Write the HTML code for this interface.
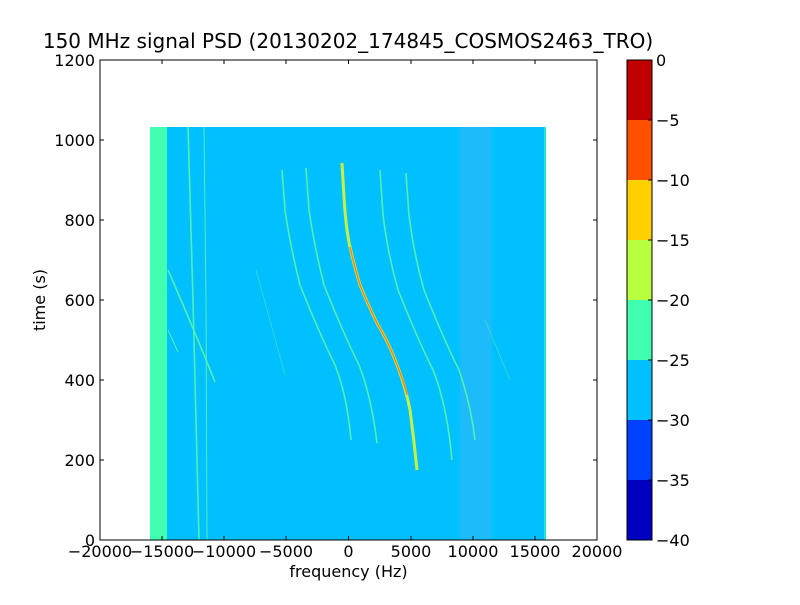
<!DOCTYPE html>
<html><head><meta charset="utf-8"><style>
body{margin:0;background:#fff;width:800px;height:600px;overflow:hidden}
text{font-family:"DejaVu Sans","Liberation Sans",sans-serif;fill:#000}
</style></head><body>
<svg width="800" height="600" viewBox="0 0 800 600" xmlns="http://www.w3.org/2000/svg" font-size="16">
<rect width="800" height="600" fill="#fff"/>
<rect x="150" y="127" width="396" height="413" fill="#00c0ff"/>
<rect x="150" y="127" width="17" height="413" fill="#40ffb0"/>
<rect x="460" y="127" width="32" height="413" fill="#60b0f0" opacity="0.3"/>
<rect x="544" y="127" width="2" height="413" fill="#40ffb0" opacity="0.6"/>
<g fill="none" stroke="#50f0b0" stroke-width="1.6">
<path d="M188,127 L193,300 L196,420 L199,540"/>
<path d="M204,127 L206,300 L207,540" stroke-width="1"/>
<path d="M168,270 Q190,320 215,382"/>
<path d="M168,330 L178,352" stroke-width="1"/>
<path d="M282,170 L285,210 Q290,245 300,285 Q320,335 335,365 Q347,395 351,440"/>
<path d="M306,168 L309,210 Q314,245 324,285 Q344,335 359,365 Q371,395 377,443"/>
<path d="M380,170 L383,215 Q388,255 398,290 Q418,340 433,370 Q447,405 452,460"/>
<path d="M406,173 L409,215 Q414,255 424,290 Q444,340 459,370 Q471,405 475,440"/>
<path d="M256,270 L285,375" stroke-width="1" opacity="0.5"/>
<path d="M485,320 L510,380" stroke-width="1" opacity="0.5"/>
</g>
<path d="M342,163 L344,197 Q346,230 350,247 Q354,265 360,285 Q368,305 378,325 Q390,345 397,365 Q405,385 410,410 Q414,440 417,470" fill="none" stroke="#c8f040" stroke-width="3"/>
<path d="M350,247 Q354,265 360,285 Q368,305 378,325 Q390,345 397,365 Q405,385 407,395" fill="none" stroke="#ff8020" stroke-width="1.5"/>
<rect x="100" y="60" width="497" height="480" fill="none" stroke="#000" stroke-width="1"/>
<g stroke="#000" stroke-width="1">
<path d="M100,540v-4M162,540v-4M224,540v-4M286,540v-4M348.5,540v-4M411,540v-4M473,540v-4M535,540v-4M597,540v-4"/>
<path d="M100,60v4M162,60v4M224,60v4M286,60v4M348.5,60v4M411,60v4M473,60v4M535,60v4M597,60v4"/>
<path d="M100,540h4M100,460h4M100,380h4M100,300h4M100,220h4M100,140h4M100,60h4"/>
<path d="M597,540h-4M597,460h-4M597,380h-4M597,300h-4M597,220h-4M597,140h-4M597,60h-4"/>
</g>
<g text-anchor="middle">
<text x="100" y="557">−20000</text><text x="162" y="557">−15000</text><text x="224" y="557">−10000</text>
<text x="286" y="557">−5000</text><text x="348.5" y="557">0</text><text x="411" y="557">5000</text>
<text x="473" y="557">10000</text><text x="535" y="557">15000</text><text x="597" y="557">20000</text>
<text x="348.5" y="577" style="font-size:16px">frequency (Hz)</text>
<text x="348" y="48" style="font-size:20px">150 MHz signal PSD (20130202_174845_COSMOS2463_TRO)</text>
</g>
<g text-anchor="end">
<text x="95" y="546">0</text><text x="95" y="466">200</text><text x="95" y="386">400</text>
<text x="95" y="306">600</text><text x="95" y="226">800</text><text x="95" y="146">1000</text><text x="95" y="66">1200</text>
</g>
<text transform="translate(45,300) rotate(-90)" text-anchor="middle" style="font-size:16px">time (s)</text>
<rect x="627" y="60" width="25" height="60" fill="#c00000"/>
<rect x="627" y="120" width="25" height="60" fill="#ff5000"/>
<rect x="627" y="180" width="25" height="60" fill="#ffd000"/>
<rect x="627" y="240" width="25" height="60" fill="#b8ff40"/>
<rect x="627" y="300" width="25" height="60" fill="#40ffb0"/>
<rect x="627" y="360" width="25" height="60" fill="#00c0ff"/>
<rect x="627" y="420" width="25" height="60" fill="#0040ff"/>
<rect x="627" y="480" width="25" height="60" fill="#0000c0"/>
<rect x="627" y="60" width="25" height="480" fill="none" stroke="#000"/>
<g stroke="#000"><path d="M652,60h-4M652,120h-4M652,180h-4M652,240h-4M652,300h-4M652,360h-4M652,420h-4M652,480h-4M652,540h-4"/></g>
<g>
<text x="656" y="66">0</text><text x="656" y="126">−5</text><text x="656" y="186">−10</text>
<text x="656" y="246">−15</text><text x="656" y="306">−20</text><text x="656" y="366">−25</text>
<text x="656" y="426">−30</text><text x="656" y="486">−35</text><text x="656" y="546">−40</text>
</g>
</svg>
</body></html>
